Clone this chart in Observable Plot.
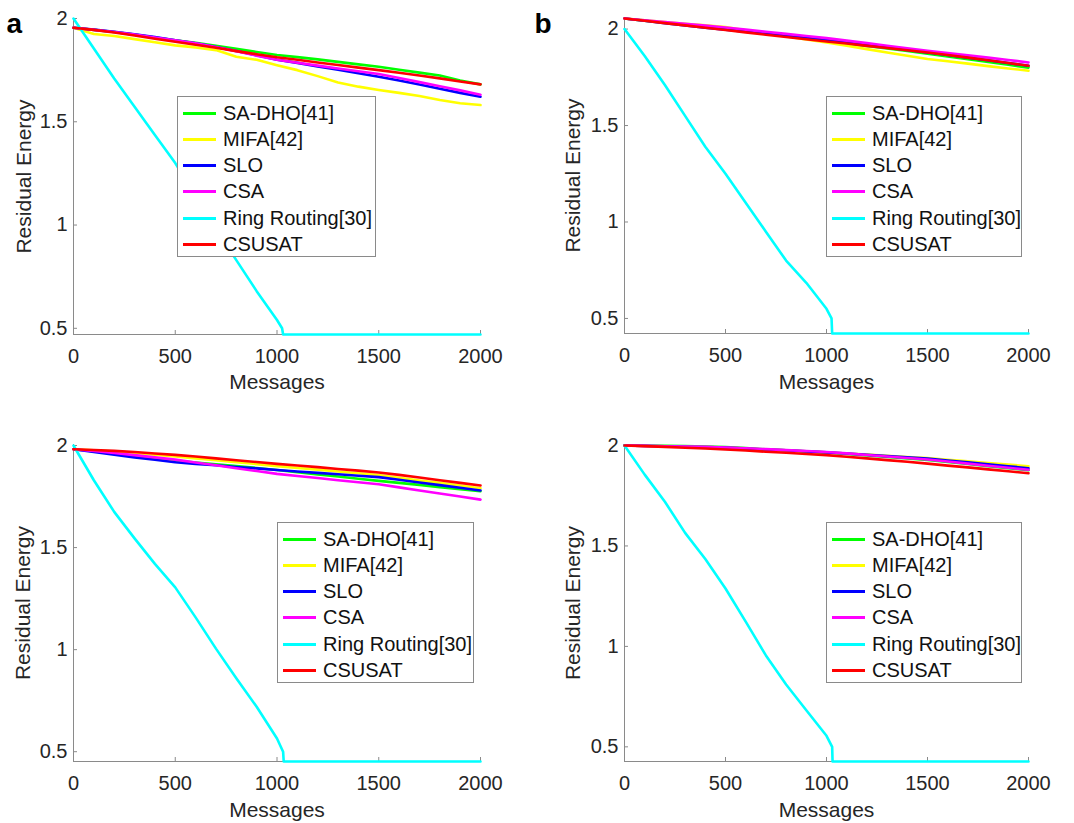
<!DOCTYPE html>
<html><head><meta charset="utf-8">
<script src="https://cdn.jsdelivr.net/npm/d3@7"></script>
<script src="https://cdn.jsdelivr.net/npm/@observablehq/plot@0.6"></script>
<style>
body{margin:0;background:#fff;}
#wrap{position:relative;width:1074px;height:823px;overflow:hidden;background:#fff;font-family:"Liberation Sans",Arial,sans-serif;}
.panel{position:absolute;}
.legend{position:absolute;background:#fff;border:1px solid #8a8a8a;box-sizing:border-box;z-index:5;}
.legend .ln{position:absolute;left:5px;width:33px;height:3px;}
.legend .tx{position:absolute;left:45px;font-size:20px;line-height:20px;color:#111;white-space:nowrap;}
</style></head><body><div id="wrap"></div>
<script>
// ---- shared ----
const seriesNames = ["SA-DHO[41]", "MIFA[42]", "SLO", "CSA", "Ring Routing[30]", "CSUSAT"];
const seriesColors = ["#00ff00", "#ffff00", "#0000ff", "#ff00ff", "#00ffff", "#ff0000"];
const messages = [0,100,200,300,400,500,600,700,800,900,1000,1100,1200,1300,1400,1500,1600,1700,1800,1900,2000];
const xTicks = [0, 500, 1000, 1500, 2000];
const yTicks = [0.5, 1, 1.5, 2];

// ---- panel a ----
const aSADHO  = [1.955,1.945,1.935,1.922,1.908,1.895,1.882,1.868,1.853,1.838,1.823,1.813,1.802,1.79,1.778,1.766,1.752,1.738,1.724,1.70,1.681];
const aMIFA   = [1.955,1.925,1.915,1.90,1.885,1.87,1.86,1.847,1.815,1.80,1.774,1.75,1.721,1.69,1.67,1.654,1.64,1.625,1.605,1.59,1.581];
const aSLO    = [1.955,1.946,1.936,1.924,1.91,1.895,1.88,1.862,1.843,1.822,1.80,1.785,1.768,1.752,1.735,1.718,1.70,1.68,1.66,1.64,1.621];
const aCSA    = [1.955,1.945,1.935,1.922,1.908,1.895,1.88,1.862,1.842,1.82,1.80,1.786,1.772,1.758,1.745,1.731,1.712,1.692,1.672,1.652,1.631];
const aCSUSAT = [1.955,1.945,1.932,1.918,1.902,1.887,1.873,1.858,1.842,1.827,1.812,1.80,1.787,1.775,1.762,1.75,1.737,1.724,1.71,1.695,1.681];
const aRingX  = [0,100,200,300,400,500,600,700,800,900,1000,1025,1030,2000];
const aRingY  = [2.0,1.855,1.71,1.573,1.436,1.30,1.14,0.98,0.83,0.68,0.54,0.50,0.47,0.47];

// ---- panel b ----
const bSADHO  = [2.055,2.044,2.033,2.022,2.011,2.0,1.988,1.976,1.964,1.952,1.94,1.926,1.913,1.899,1.886,1.872,1.858,1.844,1.829,1.815,1.80];
const bMIFA   = [2.055,2.046,2.037,2.028,2.019,2.01,1.994,1.978,1.962,1.946,1.931,1.914,1.896,1.879,1.862,1.845,1.833,1.821,1.808,1.796,1.784];
const bSLO    = [2.055,2.043,2.031,2.019,2.007,1.997,1.987,1.976,1.965,1.955,1.945,1.932,1.919,1.905,1.892,1.879,1.866,1.852,1.838,1.824,1.81];
const bCSA    = [2.055,2.046,2.036,2.027,2.018,2.008,1.997,1.986,1.975,1.964,1.953,1.94,1.927,1.914,1.901,1.888,1.876,1.864,1.852,1.84,1.827];
const bCSUSAT = [2.055,2.043,2.031,2.019,2.007,1.995,1.983,1.971,1.959,1.947,1.936,1.925,1.913,1.902,1.89,1.879,1.866,1.852,1.838,1.824,1.81];
const bRingX  = [0,100,200,300,400,500,600,700,800,900,1000,1025,1028,2000];
const bRingY  = [2.0,1.86,1.71,1.55,1.39,1.25,1.10,0.95,0.80,0.685,0.55,0.50,0.422,0.422];

// ---- panel c ----
const cSADHO  = [1.982,1.972,1.961,1.95,1.938,1.926,1.917,1.908,1.899,1.89,1.88,1.869,1.858,1.848,1.837,1.827,1.817,1.807,1.796,1.786,1.776];
const cMIFA   = [1.982,1.977,1.971,1.964,1.955,1.946,1.937,1.928,1.918,1.909,1.899,1.89,1.882,1.873,1.864,1.855,1.842,1.829,1.817,1.804,1.791];
const cSLO    = [1.982,1.968,1.955,1.942,1.93,1.918,1.91,1.903,1.895,1.888,1.88,1.873,1.866,1.859,1.852,1.845,1.832,1.819,1.806,1.793,1.78];
const cCSA    = [1.982,1.973,1.963,1.953,1.942,1.931,1.917,1.903,1.889,1.875,1.861,1.851,1.841,1.83,1.82,1.81,1.795,1.78,1.765,1.75,1.735];
const cCSUSAT = [1.982,1.978,1.974,1.968,1.961,1.954,1.946,1.937,1.928,1.919,1.91,1.902,1.894,1.885,1.877,1.868,1.856,1.843,1.83,1.817,1.804];
const cRingX  = [0,100,200,300,400,500,600,700,800,900,1000,1030,1033,2000];
const cRingY  = [2.0,1.83,1.675,1.545,1.42,1.305,1.158,1.005,0.86,0.72,0.565,0.50,0.452,0.452];

// ---- panel d ----
const dSADHO  = [2.0,1.999,1.998,1.997,1.995,1.992,1.987,1.981,1.976,1.97,1.965,1.958,1.95,1.943,1.935,1.928,1.918,1.908,1.897,1.887,1.877];
const dMIFA   = [2.0,1.998,1.996,1.994,1.992,1.99,1.985,1.98,1.976,1.971,1.966,1.96,1.955,1.949,1.943,1.937,1.929,1.921,1.913,1.905,1.897];
const dSLO    = [2.0,1.998,1.996,1.994,1.992,1.99,1.985,1.98,1.976,1.971,1.966,1.96,1.954,1.947,1.941,1.935,1.925,1.916,1.906,1.897,1.887];
const dCSA    = [2.0,1.998,1.996,1.995,1.993,1.99,1.986,1.982,1.977,1.973,1.968,1.961,1.953,1.945,1.938,1.93,1.92,1.91,1.899,1.889,1.879];
const dCSUSAT = [2.0,1.997,1.993,1.989,1.985,1.98,1.975,1.969,1.964,1.958,1.952,1.944,1.936,1.927,1.919,1.91,1.90,1.891,1.881,1.872,1.862];
const dRingX  = [0,100,200,300,400,500,600,700,800,900,1000,1028,1030,2000];
const dRingY  = [2.0,1.855,1.72,1.565,1.435,1.288,1.123,0.955,0.81,0.682,0.555,0.50,0.427,0.427];

const AXIS = "#8a8a8a";
const wrap = document.getElementById("wrap");

function makePanel(cfg) {
  const {left, top, width, height, mL, mR, mT, mB, yDom, vals, ringX, ringY} = cfg;
  const ppuY = (height - mT - mB) / (yDom[1] - yDom[0]);
  const ppuX = (width - mL - mR) / 2000;
  const tk = 4;
  const marks = [
    Plot.ruleX(xTicks, {y1: yDom[0], y2: yDom[0] + tk / ppuY, stroke: AXIS}),
    Plot.ruleY(yTicks, {x1: 0, x2: tk / ppuX, stroke: AXIS}),
    Plot.ruleX([0], {stroke: AXIS}),
    Plot.ruleY([yDom[0]], {stroke: AXIS}),
    Plot.axisX(xTicks, {tickSize: 0, tickPadding: 14, tickFormat: d => String(d), label: null, fontSize: 20}),
    Plot.axisY(yTicks, {tickSize: 0, tickPadding: 6, tickFormat: d => String(d), label: null, fontSize: 20})
  ];
  // draw order: SA-DHO, MIFA, SLO, CSA, Ring, CSUSAT
  const lineSeries = [vals[0], vals[1], vals[2], vals[3]];
  lineSeries.forEach((v, k) => {
    marks.push(Plot.line(messages.map((m, i) => ({x: m, y: v[i]})), {x: "x", y: "y", stroke: seriesColors[k], strokeWidth: 2.6}));
  });
  marks.push(Plot.line(ringX.map((m, i) => ({x: m, y: ringY[i]})), {x: "x", y: "y", stroke: seriesColors[4], strokeWidth: 2.6}));
  marks.push(Plot.line(messages.map((m, i) => ({x: m, y: vals[4][i]})), {x: "x", y: "y", stroke: seriesColors[5], strokeWidth: 2.6}));
  marks.push(Plot.text(["Residual Energy"], {text: d => d, frameAnchor: "left", rotate: -90, dx: cfg.ylabDx, lineAnchor: "middle", textAnchor: "middle", fontSize: 21}));
  marks.push(Plot.text(["Messages"], {text: d => d, frameAnchor: "bottom", dy: cfg.xlabDy, lineAnchor: "middle", textAnchor: "middle", fontSize: 21}));
  if (cfg.letter) {
    marks.push(Plot.text([cfg.letter], {text: d => d, frameAnchor: "top-left", dx: cfg.letterDx, dy: cfg.letterDy, textAnchor: "start", lineAnchor: "top", fontSize: 28, fontWeight: "bold", fill: "#000"}));
  }
  const svg = Plot.plot({
    width, height,
    marginLeft: mL, marginRight: mR, marginTop: mT, marginBottom: mB,
    x: {domain: [0, 2000]},
    y: {domain: yDom},
    style: {fontFamily: "Liberation Sans, Arial, sans-serif", fontSize: "20px", color: "#262626", background: "transparent", overflow: "visible"},
    marks
  });
  const div = document.createElement("div");
  div.className = "panel";
  div.style.left = left + "px";
  div.style.top = top + "px";
  div.style.width = width + "px";
  div.style.height = height + "px";
  div.appendChild(svg);
  wrap.appendChild(div);

  // legend
  const lg = document.createElement("div");
  lg.className = "legend";
  lg.style.left = cfg.legend[0] + "px";
  lg.style.top = cfg.legend[1] + "px";
  lg.style.width = cfg.legend[2] + "px";
  lg.style.height = "161px";
  seriesNames.forEach((name, i) => {
    const cy = Math.round(15.5 + i * 26.3);
    const ln = document.createElement("div");
    ln.className = "ln";
    ln.style.top = (cy - 1) + "px";
    ln.style.background = seriesColors[i];
    const tx = document.createElement("div");
    tx.className = "tx";
    tx.style.top = (cy - 10) + "px";
    tx.textContent = name;
    lg.appendChild(ln);
    lg.appendChild(tx);
  });
  wrap.appendChild(lg);
}

makePanel({left: 0, top: 0, width: 530, height: 410, mL: 73, mR: 50, mT: 18, mB: 76, yDom: [0.47, 2.0],
  vals: [aSADHO, aMIFA, aSLO, aCSA, aCSUSAT], ringX: aRingX, ringY: aRingY,
  ylabDx: -49, xlabDy: 48, letter: "a", letterDx: -67, letterDy: -5, legend: [177, 96, 199]});
makePanel({left: 530, top: 0, width: 544, height: 410, mL: 94, mR: 46, mT: 17, mB: 77, yDom: [0.422, 2.06],
  vals: [bSADHO, bMIFA, bSLO, bCSA, bCSUSAT], ringX: bRingX, ringY: bRingY,
  ylabDx: -51, xlabDy: 49, letter: "b", letterDx: -90, letterDy: -4, legend: [826, 96, 196]});
makePanel({left: 0, top: 410, width: 530, height: 413, mL: 73, mR: 50, mT: 34, mB: 62, yDom: [0.452, 2.005],
  vals: [cSADHO, cMIFA, cSLO, cCSA, cCSUSAT], ringX: cRingX, ringY: cRingY,
  ylabDx: -50, xlabDy: 49, legend: [277, 522, 197]});
makePanel({left: 530, top: 410, width: 544, height: 413, mL: 94, mR: 46, mT: 34, mB: 62, yDom: [0.427, 2.005],
  vals: [dSADHO, dMIFA, dSLO, dCSA, dCSUSAT], ringX: dRingX, ringY: dRingY,
  ylabDx: -51, xlabDy: 49, legend: [826, 522, 196]});
</script></body></html>
